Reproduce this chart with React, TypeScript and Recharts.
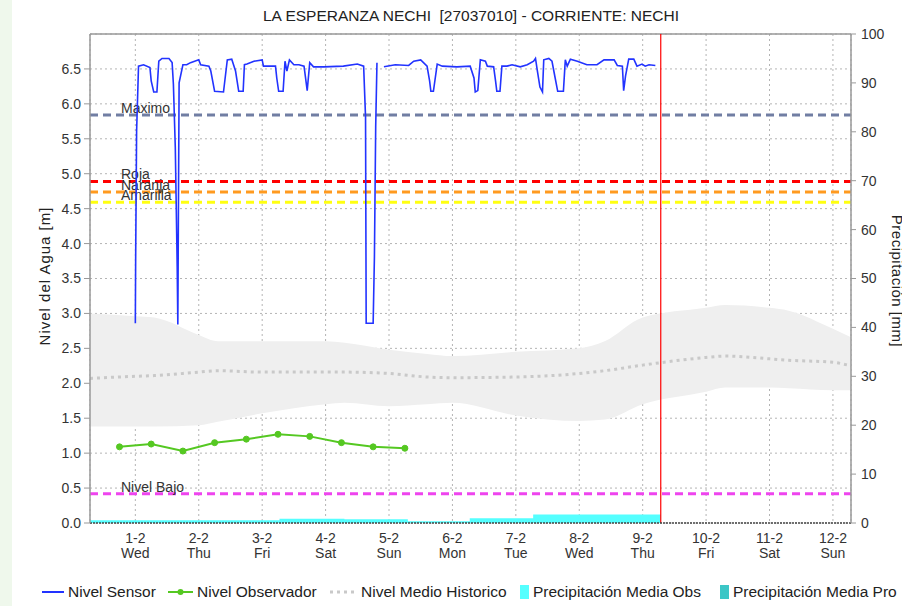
import React from 'react';
import { ComposedChart, Line, Area, XAxis, YAxis, CartesianGrid, ReferenceLine } from 'recharts';

const FONT = '"Liberation Sans", Arial, Helvetica, sans-serif';

const titleText = 'LA ESPERANZA NECHI  [27037010] - CORRIENTE: NECHI';

// x positions are days measured from 1-2 00:00
const tickDays = [0, 1, 2, 3, 4, 5, 6, 7, 8, 9, 10, 11];
const tickDates = ['1-2', '2-2', '3-2', '4-2', '5-2', '6-2', '7-2', '8-2', '9-2', '10-2', '11-2', '12-2'];
const tickWeekdays = ['Wed', 'Thu', 'Fri', 'Sat', 'Sun', 'Mon', 'Tue', 'Wed', 'Thu', 'Fri', 'Sat', 'Sun'];
const windowStart = -0.715;
const windowEnd = 11.285;
const nowDay = 8.285;

const levelTicks = [0, 0.5, 1, 1.5, 2, 2.5, 3, 3.5, 4, 4.5, 5, 5.5, 6, 6.5];
const precipTicks = [0, 10, 20, 30, 40, 50, 60, 70, 80, 90, 100];

const sensorDays = [
  0, 0.005, 0.02, 0.05, 0.13, 0.23, 0.25, 0.29, 0.34, 0.37, 0.42, 0.53, 0.58, 0.6, 0.63, 0.66, 0.67, 0.69,
  0.75, 0.81, 0.87, 1.0, 1.03, 1.16, 1.19, 1.25, 1.39, 1.45, 1.52, 1.58, 1.63, 1.7, 1.72, 1.76, 1.87,
  2.0, 2.02, 2.21, 2.23, 2.26, 2.33, 2.36, 2.39, 2.43, 2.5, 2.58, 2.66, 2.71, 2.75, 2.81, 2.97, 3.28,
  3.5, 3.6, 3.63, 3.64, 3.75, 3.77, 3.79, 3.81, 3.86, 3.92, 4.1, 4.31, 4.39, 4.5, 4.6, 4.64, 4.66, 4.7,
  4.76, 4.84, 5.07, 5.28, 5.34, 5.36, 5.4, 5.44, 5.52, 5.55, 5.65, 5.68, 5.7, 5.75, 5.78, 5.86, 5.94,
  6.07, 6.18, 6.28, 6.31, 6.34, 6.38, 6.42, 6.44, 6.52, 6.57, 6.62, 6.66, 6.75, 6.78, 6.81, 6.86, 6.97,
  7.12, 7.28, 7.39, 7.55, 7.6, 7.68, 7.7, 7.73, 7.78, 7.86, 7.91, 7.99, 8.04, 8.1, 8.2,
];
const sensorLevels: (number | null)[] = [
  2.86, 3.79, 5.61, 6.54, 6.56, 6.52, 6.33, 6.17, 6.17, 6.61, 6.65, 6.65, 6.59, 6.28, 5.38, 3.67, 2.84, 6.3,
  6.56, 6.56, 6.59, 6.63, 6.56, 6.54, 6.47, 6.18, 6.17, 6.63, 6.64, 6.47, 6.18, 6.18, 6.56, 6.57, 6.61,
  6.63, 6.54, 6.54, 6.37, 6.18, 6.18, 6.61, 6.47, 6.63, 6.56, 6.56, 6.54, 6.19, 6.59, 6.53, 6.53, 6.54,
  6.57, 6.54, 5.81, 2.86, 2.86, 3.81, 5.67, 6.59, null, 6.53, 6.56, 6.55, 6.61, 6.63, 6.54, 6.33, 6.18, 6.18,
  6.57, 6.54, 6.53, 6.54, 6.37, 6.17, 6.19, 6.63, 6.61, 6.54, 6.53, 6.33, 6.18, 6.18, 6.54, 6.54, 6.56,
  6.53, 6.56, 6.61, 6.65, 6.47, 6.24, 6.17, 6.63, 6.65, 6.61, 6.37, 6.18, 6.18, 6.63, 6.54, 6.64, 6.61,
  6.56, 6.56, 6.63, 6.63, 6.55, 6.54, 6.19, 6.4, 6.64, 6.64, 6.54, 6.57, 6.54, 6.56, 6.55,
];

const observerDays = [-0.25, 0.25, 0.75, 1.25, 1.75, 2.25, 2.75, 3.25, 3.75, 4.25];
const observerLevels = [1.09, 1.13, 1.03, 1.15, 1.2, 1.27, 1.24, 1.15, 1.09, 1.07];

const histDays = [-0.715, 0, 0.3, 1, 1.3, 2, 3, 3.3, 4, 4.6, 5, 6, 7, 7.4, 8, 9, 9.3, 10, 10.3, 11, 11.285];
const histHigh = [3.0, 2.96, 2.94, 2.69, 2.6, 2.6, 2.6, 2.58, 2.48, 2.42, 2.39, 2.45, 2.5, 2.6, 2.94, 3.08, 3.12, 3.08, 3.04, 2.78, 2.66];
const histLow = [1.38, 1.38, 1.38, 1.4, 1.45, 1.57, 1.7, 1.72, 1.67, 1.7, 1.72, 1.54, 1.46, 1.48, 1.7, 1.88, 1.94, 1.94, 1.93, 1.9, 1.9];
const histMean = [2.07, 2.1, 2.11, 2.16, 2.18, 2.16, 2.16, 2.16, 2.14, 2.09, 2.08, 2.09, 2.14, 2.18, 2.26, 2.37, 2.39, 2.35, 2.33, 2.3, 2.25];

const precipDays = [-0.715, 2.285, 3.285, 4.285, 5.285, 6.285, 7.285, 8.285];
const precipObs = [0.4, 0.7, 0.6, 0.2, 0.8, 1.6, 1.6, 1.6];

const thresholdNames = ['Maximo', 'Roja', 'Naranja', 'Amarilla', 'Nivel Bajo'];
const thresholdLevels = [5.84, 4.89, 4.74, 4.59, 0.42];

const legendNames = ['Nivel Sensor', 'Nivel Observador', 'Nivel Medio Historico', 'Precipitación Media Obs', 'Precipitación Media Pro'];

const thresholdColors = ['#717ea3', '#ff0000', '#ff9a1f', '#ffff10', '#ee44ee'];
const C = {
  sensor: '#2233ff',
  observer: '#55c822',
  band: '#efefef',
  mean: '#c9c9c9',
  precipObs: '#55ffff',
  precipPro: '#3cc6c6',
  axis: '#999999',
  grid: '#b4b4b4',
  text: '#333333',
};

const sensorData = sensorDays.map((d, i) => ({ x: d, y: sensorLevels[i] }));
const observerData = observerDays.map((d, i) => ({ x: d, y: observerLevels[i] }));
const histData = histDays.map((d, i) => ({ x: d, band: [histLow[i], histHigh[i]], mean: histMean[i] }));
const precipData = precipDays.map((d, i) => ({ x: d, p: precipObs[i] }));

const DayTick = (props: any) => {
  const { x, y, payload } = props;
  const i = tickDays.indexOf(payload.value);
  return (
    <g>
      <text x={x} y={y + 12} textAnchor="middle" fontSize={14} fontFamily={FONT} fill={C.text}>{tickDates[i]}</text>
      <text x={x} y={y + 27} textAnchor="middle" fontSize={14} fontFamily={FONT} fill={C.text}>{tickWeekdays[i]}</text>
    </g>
  );
};

const thresholdLabel = (name: string) => (props: any) => {
  const vb = props.viewBox || {};
  return (
    <text x={(vb.x ?? 0) + 31} y={(vb.y ?? 0) - 2} fontSize={14} fontFamily={FONT} fill={C.text}>{name}</text>
  );
};

const tickStyle = { fontSize: 14, fontFamily: FONT, fill: C.text };
const LEG = 15.5;

export default function App() {
  return (
    <div style={{ position: 'absolute', left: 0, top: 0, width: 902, height: 606, overflow: 'hidden', background: '#ffffff', fontFamily: FONT }}>
      <div style={{ position: 'absolute', left: 0, top: 0, width: 12, height: 606, background: '#eff8ec' }} />
      <div style={{ position: 'absolute', left: 0, top: 0 }}>
        <ComposedChart width={902} height={606} margin={{ top: 34, right: 0, bottom: 43, left: 40 }}>
          <XAxis
            dataKey="x"
            type="number"
            domain={[windowStart, windowEnd]}
            allowDataOverflow
            ticks={tickDays}
            interval={0}
            tick={<DayTick />}
            tickLine={false}
            tickSize={6}
            tickMargin={2}
            height={40}
            axisLine={{ stroke: '#444', strokeDasharray: '2 1', strokeWidth: 1.5 }}
          />
          <YAxis
            yAxisId="left"
            domain={[0, 7]}
            ticks={levelTicks}
            interval={0}
            width={50}
            tickSize={6}
            tickMargin={3}
            tick={tickStyle}
            tickFormatter={(v: number) => v.toFixed(1)}
            axisLine={{ stroke: C.axis, strokeWidth: 1.5 }}
            tickLine={{ stroke: C.axis }}
            allowDataOverflow
          />
          <YAxis
            yAxisId="right"
            orientation="right"
            domain={[0, 100]}
            ticks={precipTicks}
            interval={0}
            width={51}
            tickSize={5}
            tickMargin={5}
            tick={tickStyle}
            axisLine={{ stroke: C.axis, strokeWidth: 1.5 }}
            tickLine={{ stroke: C.axis }}
            allowDataOverflow
          />
          <CartesianGrid yAxisId="left" stroke={C.grid} strokeDasharray="2 3" />
          <Area
            data={histData}
            dataKey="band"
            yAxisId="left"
            type="monotone"
            fill={C.band}
            fillOpacity={1}
            stroke="none"
            isAnimationActive={false}
            activeDot={false}
          />
          <Line
            data={histData}
            dataKey="mean"
            yAxisId="left"
            type="monotone"
            stroke={C.mean}
            strokeWidth={3}
            strokeDasharray="3 4"
            dot={false}
            activeDot={false}
            isAnimationActive={false}
          />
          <Area
            data={precipData}
            dataKey="p"
            yAxisId="right"
            type="stepAfter"
            fill={C.precipObs}
            fillOpacity={1}
            stroke={C.precipObs}
            strokeWidth={1.5}
            isAnimationActive={false}
            activeDot={false}
          />
          <ReferenceLine yAxisId="left" y={7} stroke={C.axis} strokeWidth={1.5} />
          {thresholdNames.map((name, i) => (
            <ReferenceLine
              key={name}
              yAxisId="left"
              y={thresholdLevels[i]}
              stroke={thresholdColors[i]}
              strokeWidth={3}
              strokeDasharray="8 5"
              label={thresholdLabel(name)}
            />
          ))}
          <Line
            data={observerData}
            dataKey="y"
            yAxisId="left"
            type="linear"
            stroke={C.observer}
            strokeWidth={2}
            dot={{ r: 3, fill: C.observer, stroke: C.observer, strokeWidth: 1 }}
            activeDot={false}
            isAnimationActive={false}
          />
          <Line
            data={sensorData}
            dataKey="y"
            yAxisId="left"
            type="linear"
            stroke={C.sensor}
            strokeWidth={1.6}
            dot={false}
            activeDot={false}
            connectNulls={false}
            isAnimationActive={false}
          />
          <ReferenceLine yAxisId="left" x={nowDay} stroke="#ff0000" strokeWidth={1.2} />
        </ComposedChart>
      </div>
      <svg width={902} height={606} style={{ position: 'absolute', left: 0, top: 0, pointerEvents: 'none' }}>
        <text x={471} y={21} textAnchor="middle" fontSize={LEG} fontFamily={FONT} fill="#222" style={{ whiteSpace: 'pre' }}>{titleText}</text>
        <text x={50} y={276} textAnchor="middle" fontSize={15} fontFamily={FONT} fill="#222" letterSpacing={1} transform="rotate(-90 50 276)">Nivel del Agua [m]</text>
        <text x={892} y={281} textAnchor="middle" fontSize={15} fontFamily={FONT} fill="#222" letterSpacing={0.5} transform="rotate(90 892 281)">Precipitación [mm]</text>
        {/* legend */}
        <line x1={42} y1={592} x2={64} y2={592} stroke={C.sensor} strokeWidth={2} />
        <text x={68} y={597} fontSize={LEG} fontFamily={FONT} fill="#222">{legendNames[0]}</text>
        <line x1={168} y1={592} x2={193} y2={592} stroke={C.observer} strokeWidth={2} />
        <circle cx={180.5} cy={592} r={3} fill={C.observer} />
        <text x={197} y={597} fontSize={LEG} fontFamily={FONT} fill="#222">{legendNames[1]}</text>
        <line x1={330} y1={592} x2={356} y2={592} stroke={C.mean} strokeWidth={3} strokeDasharray="3 4" />
        <text x={361} y={597} fontSize={LEG} fontFamily={FONT} fill="#222">{legendNames[2]}</text>
        <rect x={520} y={585} width={9} height={14} fill={C.precipObs} />
        <text x={533} y={597} fontSize={LEG} fontFamily={FONT} fill="#222">{legendNames[3]}</text>
        <rect x={720} y={585} width={9} height={14} fill={C.precipPro} />
        <text x={733} y={597} fontSize={LEG} fontFamily={FONT} fill="#222">{legendNames[4]}</text>
      </svg>
    </div>
  );
}
